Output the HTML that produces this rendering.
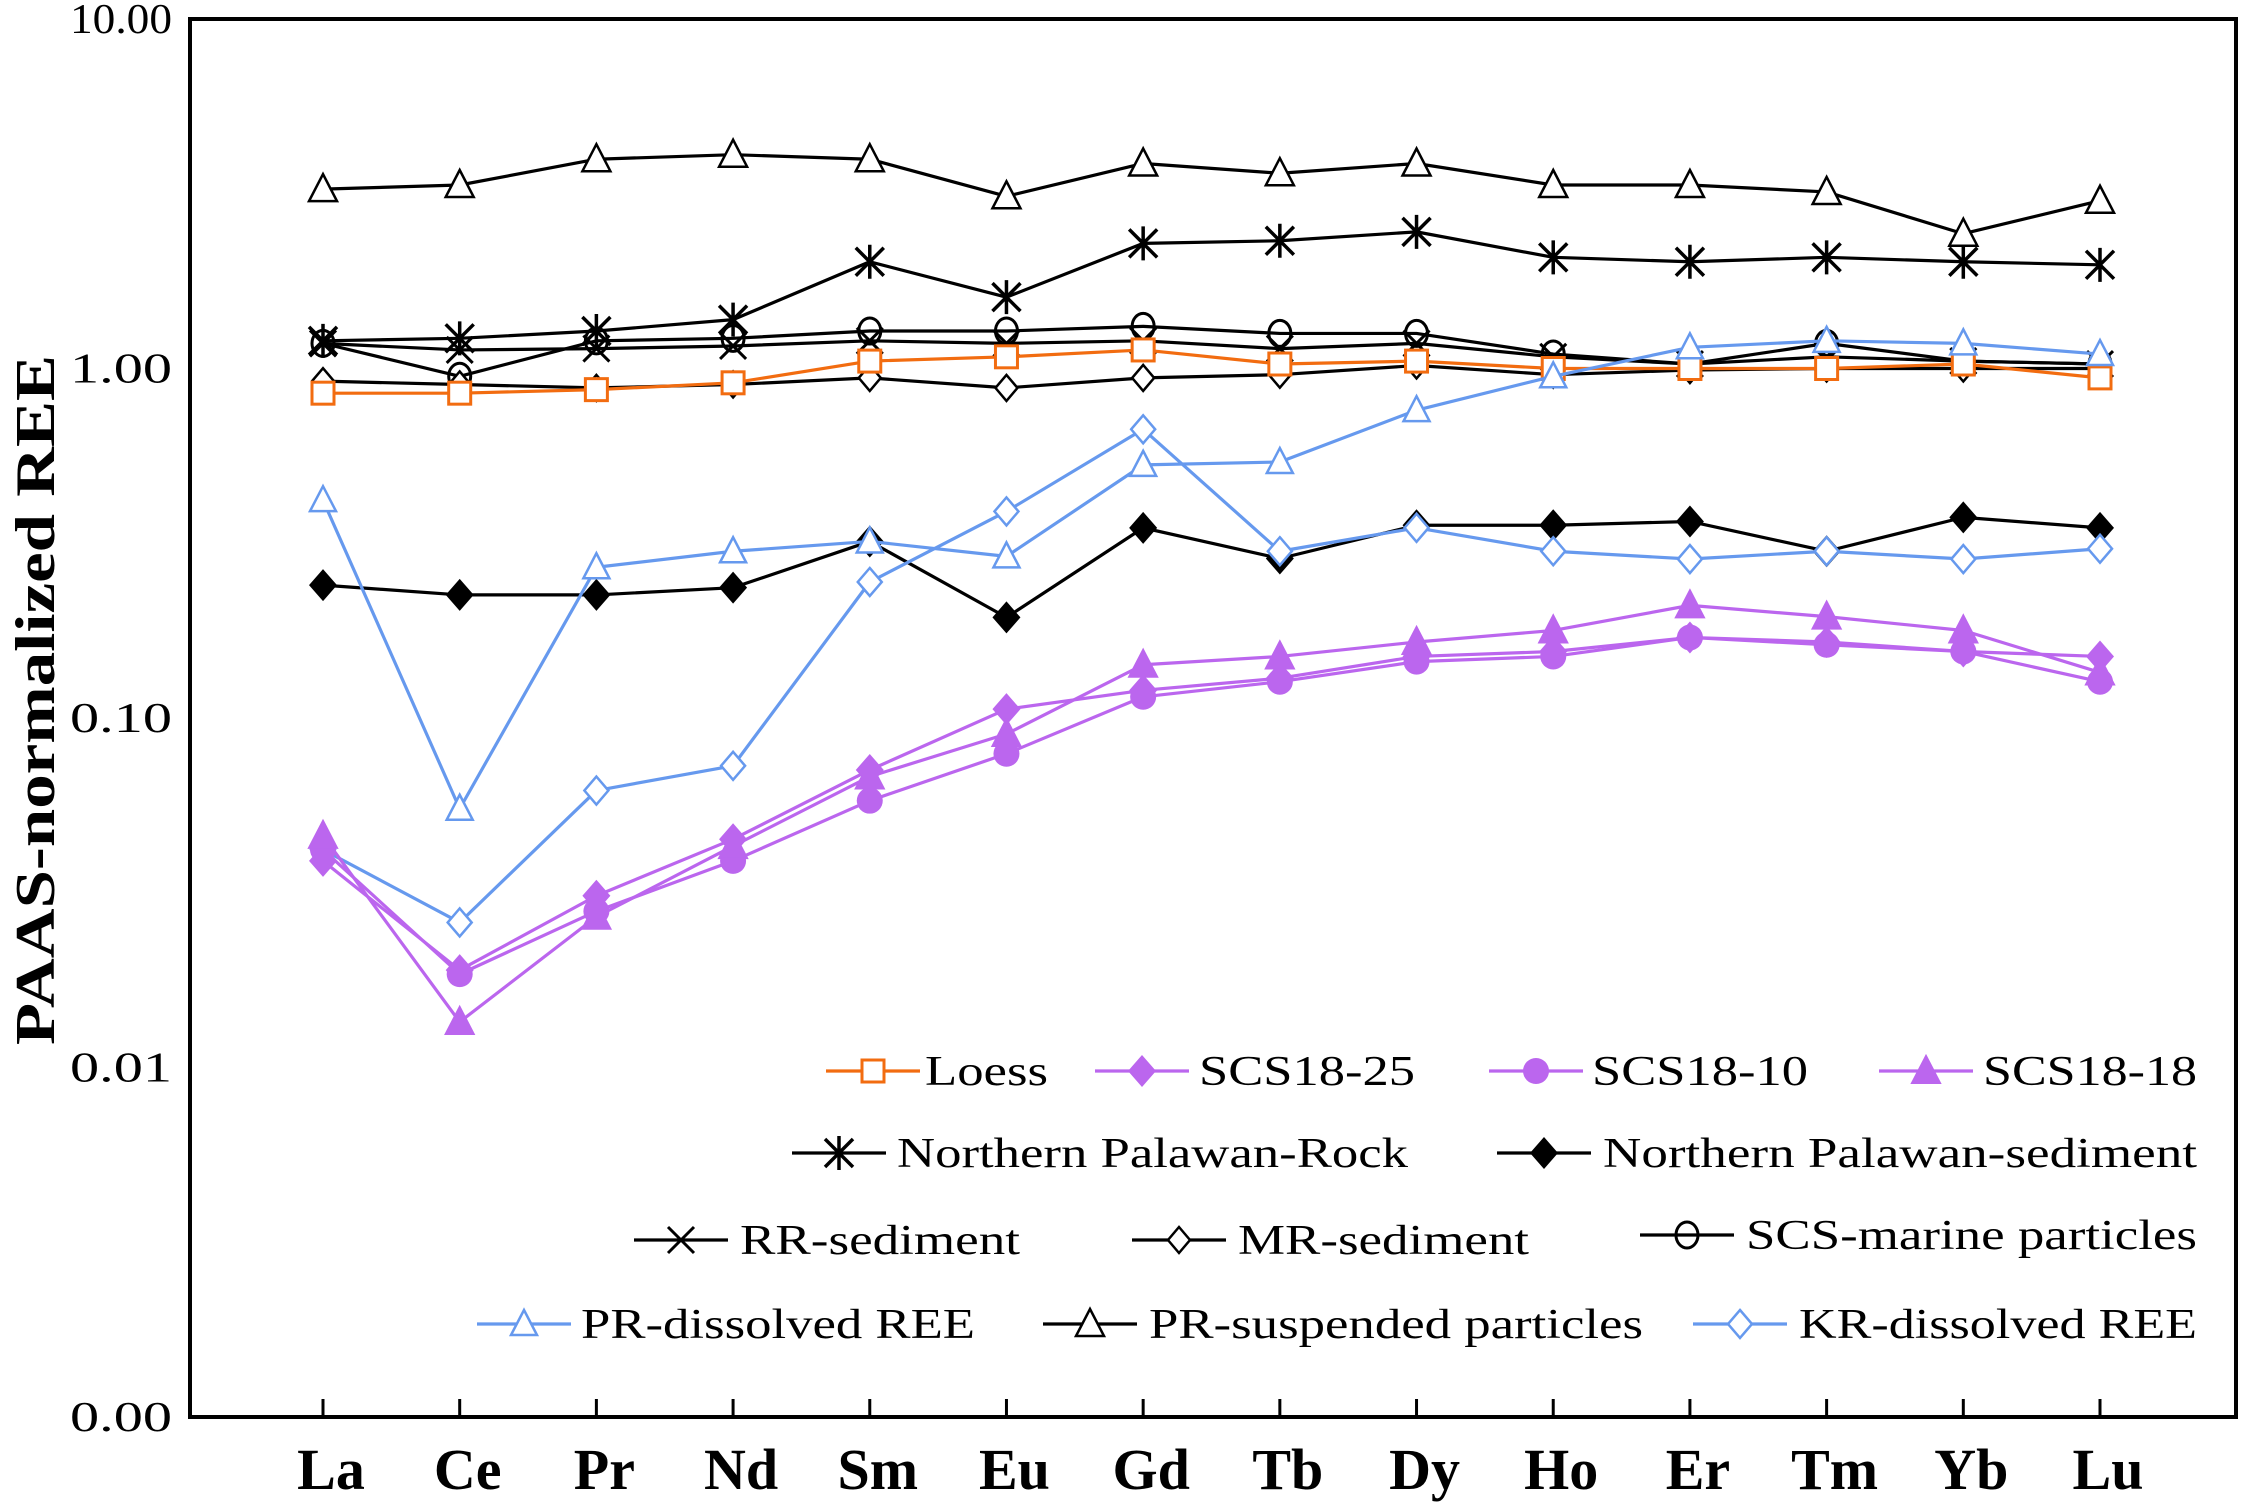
<!DOCTYPE html>
<html><head><meta charset="utf-8"><style>html,body{margin:0;padding:0;background:#fff}svg{display:block}</style></head>
<body>
<svg id="chart" width="2244" height="1503" viewBox="0 0 2244 1503" xmlns="http://www.w3.org/2000/svg" font-family="'Liberation Serif', serif">
<rect x="190" y="19" width="2046" height="1398" fill="none" stroke="#000" stroke-width="4"/>
<g id="axes"></g>
<g id="series"></g>
<g id="legend"></g>
<text transform="translate(54,700) rotate(-90)" text-anchor="middle" font-size="56" font-weight="bold" textLength="690" lengthAdjust="spacingAndGlyphs">PAAS-normalized REE</text>
</svg>
<script>
const categories = ["La","Ce","Pr","Nd","Sm","Eu","Gd","Tb","Dy","Ho","Er","Tm","Yb","Lu"];
const yTicks = [10, 1, 0.1, 0.01, 0.001];
const yTickLabels = ["10.00","1.00","0.10","0.01","0.00"];
const prSuspended = [3.26,3.35,3.97,4.09,3.97,3.11,3.86,3.62,3.86,3.35,3.35,3.2,2.43,3.02];
const npRock = [1.2,1.22,1.28,1.38,2.02,1.6,2.28,2.32,2.46,2.08,2.02,2.08,2.02,1.98];
const rrSediment = [1.18,1.13,1.14,1.16,1.2,1.18,1.2,1.14,1.18,1.08,1.03,1.08,1.05,1.03];
const scsMarine = [1.18,0.95,1.2,1.22,1.28,1.28,1.32,1.26,1.26,1.1,1.03,1.18,1.05,1.03];
const mrSediment = [0.92,0.9,0.88,0.9,0.94,0.88,0.94,0.96,1.02,0.96,0.99,1.0,1.0,1.0];
const loess = [0.85,0.85,0.87,0.91,1.05,1.08,1.13,1.03,1.05,1.0,1.0,1.0,1.03,0.94];
const npSediment = [0.24,0.225,0.225,0.236,0.32,0.194,0.35,0.286,0.356,0.356,0.365,0.3,0.375,0.35];
const prDissolved = [0.42,0.055,0.27,0.3,0.32,0.29,0.53,0.54,0.76,0.95,1.15,1.2,1.18,1.1];
const krDissolved = [0.042,0.026,0.062,0.073,0.245,0.39,0.67,0.3,0.35,0.3,0.285,0.3,0.285,0.305];
const scs25 = [0.039,0.019,0.031,0.045,0.071,0.106,0.12,0.13,0.15,0.155,0.17,0.165,0.155,0.15];
const scs10 = [0.042,0.0185,0.028,0.039,0.058,0.079,0.115,0.127,0.145,0.15,0.17,0.162,0.155,0.127];
const scs18 = [0.046,0.0135,0.027,0.043,0.068,0.09,0.142,0.15,0.165,0.178,0.21,0.195,0.178,0.135];

const NS="http://www.w3.org/2000/svg";
const X0=323, X1=2100, TOP=19, BOT=1417;
function xs(i){return X0+(X1-X0)*i/(categories.length-1);}
function ys(v){return TOP+(1-Math.log10(v))*(BOT-TOP)/4;}
function mk(tag,attrs,parent){const e=document.createElementNS(NS,tag);for(const k in attrs)e.setAttribute(k,attrs[k]);parent.appendChild(e);return e;}
const axes=document.getElementById('axes');
yTicks.forEach((t,i)=>{
  const y=ys(t);
  const tx=mk('text',{x:172,y:y+14,'text-anchor':'end','font-size':42,textLength:102,lengthAdjust:'spacingAndGlyphs'},axes);
  tx.textContent=yTickLabels[i];
  
  
});
categories.forEach((c,i)=>{
  const x=xs(i);
  const tk=mk('line',{x1:x,x2:x,y1:BOT,y2:BOT-18,stroke:'#000','stroke-width':3},axes);
  
  
  const tx=mk('text',{x:x+8,y:1489,'text-anchor':'middle','font-size':58,'font-weight':'bold'},axes);
  tx.textContent=c;
  
  
});
function marker(g,type,x,y,color,s){
  s=s||11;
  if(type==='tri') return mk('path',{d:`M${x},${y-s-2}L${x+s+1},${y+s-1}L${x-s-1},${y+s-1}Z`,fill:'#fff',stroke:color,'stroke-width':2.5},g);
  if(type==='triF') return mk('path',{d:`M${x},${y-s-3}L${x+s+2},${y+s}L${x-s-2},${y+s}Z`,fill:color,stroke:color,'stroke-width':2},g);
  if(type==='sq') return mk('rect',{x:x-s,y:y-s,width:2*s,height:2*s,fill:'#fff',stroke:color,'stroke-width':3},g);
  if(type==='circ') return mk('ellipse',{cx:x,cy:y,rx:s-1,ry:s+1,fill:'none',stroke:color,'stroke-width':3},g);
  if(type==='circF') return mk('circle',{cx:x,cy:y,r:s+1,fill:color},g);
  if(type==='dia') return mk('path',{d:`M${x},${y-s-2}L${x+s},${y}L${x},${y+s+2}L${x-s},${y}Z`,fill:'#fff',stroke:color,'stroke-width':2.5},g);
  if(type==='diaF') return mk('path',{d:`M${x},${y-s-4}L${x+s+2},${y}L${x},${y+s+4}L${x-s-2},${y}Z`,fill:color},g);
  if(type==='x') return mk('path',{d:`M${x-s},${y-s}L${x+s},${y+s}M${x-s},${y+s}L${x+s},${y-s}`,stroke:color,'stroke-width':3},g);
  if(type==='star') return mk('path',{d:`M${x-s},${y-s}L${x+s},${y+s}M${x-s},${y+s}L${x+s},${y-s}M${x},${y-s-3}L${x},${y+s+3}`,stroke:color,'stroke-width':3.5},g);
}
const seriesDefs=[
 {name:'pr-suspended-particles',data:prSuspended,color:'#000',m:'tri',s:13,label:'PR-suspended particles',lx:1090,ly:1324,tx:1149,tl:494},
 {name:'northern-palawan-rock',data:npRock,color:'#000',m:'star',s:14,label:'Northern Palawan-Rock',lx:839,ly:1153,tx:897,tl:511},
 {name:'rr-sediment',data:rrSediment,color:'#000',m:'x',s:13,label:'RR-sediment',lx:681,ly:1240,tx:740,tl:280},
 {name:'scs-marine-particles',data:scsMarine,color:'#000',m:'circ',s:12,label:'SCS-marine particles',lx:1687,ly:1235,tx:1746,tl:451},
 {name:'mr-sediment',data:mrSediment,color:'#000',m:'dia',s:11,label:'MR-sediment',lx:1179,ly:1240,tx:1238,tl:291},
 {name:'loess',data:loess,color:'#f26c10',m:'sq',s:11,label:'Loess',lx:873,ly:1071,tx:925,tl:123},
 {name:'northern-palawan-sediment',data:npSediment,color:'#000',m:'diaF',s:12,label:'Northern Palawan-sediment',lx:1544,ly:1153,tx:1603,tl:594},
 {name:'pr-dissolved-ree',data:prDissolved,color:'#6699ee',m:'tri',s:12,label:'PR-dissolved REE',lx:524,ly:1324,tx:581,tl:394},
 {name:'kr-dissolved-ree',data:krDissolved,color:'#6699ee',m:'dia',s:12,label:'KR-dissolved REE',lx:1740,ly:1324,tx:1799,tl:398},
 {name:'scs18-25',data:scs25,color:'#bb66ee',m:'diaF',s:12,label:'SCS18-25',lx:1142,ly:1071,tx:1199,tl:216},
 {name:'scs18-10',data:scs10,color:'#bb66ee',m:'circF',s:12,label:'SCS18-10',lx:1536,ly:1071,tx:1592,tl:216},
 {name:'scs18-18',data:scs18,color:'#bb66ee',m:'triF',s:12,label:'SCS18-18',lx:1926,ly:1071,tx:1983,tl:214}
];
const sg=document.getElementById('series');
seriesDefs.forEach(d=>{
  const g=mk('g',{},sg);
  
  
  const pts=d.data.map((v,i)=>xs(i)+','+ys(v)).join(' ');
  const ln=mk('polyline',{points:pts,fill:'none',stroke:d.color,'stroke-width':3.2,'stroke-linejoin':'round'},g);
  
  
  d.data.forEach((v,i)=>{
    const m=marker(g,d.m,xs(i),ys(v),d.color,d.s);
    
    
  });
});
const lg=document.getElementById('legend');
seriesDefs.forEach(d=>{
  const g=mk('g',{},lg);
  
  
  mk('line',{x1:d.lx-47,x2:d.lx+47,y1:d.ly,y2:d.ly,stroke:d.color,'stroke-width':3.2},g);
  marker(g,d.m,d.lx,d.ly,d.color,d.s);
  const t=mk('text',{x:d.tx,y:d.ly+14,'font-size':42,textLength:d.tl,lengthAdjust:'spacingAndGlyphs'},g);
  t.textContent=d.label;
});
</script>
</body></html>
